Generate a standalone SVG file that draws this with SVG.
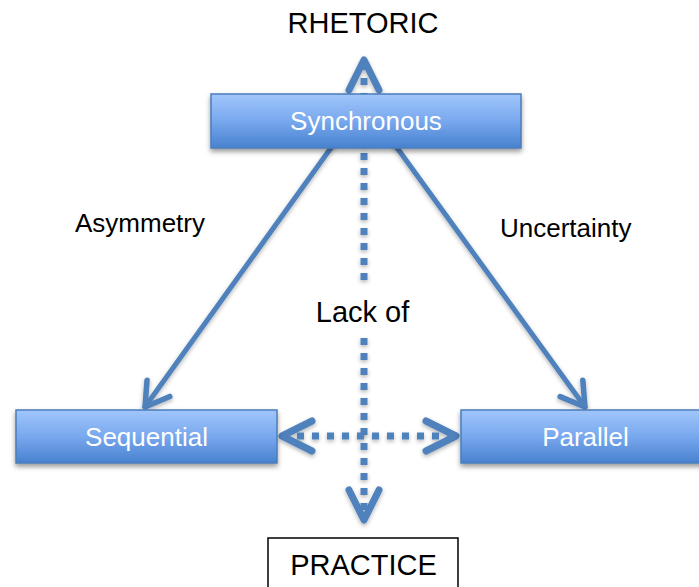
<svg xmlns="http://www.w3.org/2000/svg" width="699" height="587" viewBox="0 0 699 587">
<style>
text{font-family:"Liberation Sans",Arial,sans-serif}
.box{fill:url(#g);stroke:#4a7ebb;stroke-width:1.5;filter:url(#sh)}
.wt{fill:#fff;font-size:26px;text-anchor:middle}
.bt{fill:#000;text-anchor:middle}
.solid{fill:none;stroke:#4f81bd;stroke-width:5;stroke-linecap:round;filter:url(#ls)}
.dot{fill:none;stroke:#4f81bd;stroke-width:7;stroke-dasharray:7 8;filter:url(#ls)}
</style>
<defs>
<linearGradient id="g" x1="0" y1="0" x2="0" y2="1">
<stop offset="0" stop-color="#a1c6fb"/>
<stop offset="0.5" stop-color="#78a8ee"/>
<stop offset="1" stop-color="#4881cf"/>
</linearGradient>
<filter id="sh" x="-10%" y="-20%" width="120%" height="160%">
<feDropShadow dx="0" dy="3" stdDeviation="2.5" flood-color="#000" flood-opacity="0.4"/>
</filter>
<filter id="ls" filterUnits="userSpaceOnUse" x="0" y="0" width="699" height="587">
<feDropShadow dx="0" dy="2" stdDeviation="2" flood-color="#000" flood-opacity="0.3"/>
</filter>
<marker id="sa" markerUnits="userSpaceOnUse" viewBox="-30 -20 34 40" refX="0" refY="0" markerWidth="34" markerHeight="40" orient="auto" overflow="visible">
<path d="M-23,-14 L0,0 L-23,14" fill="none" stroke="#4f81bd" stroke-width="5.5" stroke-linecap="round" stroke-linejoin="round"/>
</marker>
<marker id="da" markerUnits="userSpaceOnUse" viewBox="-40 -22 44 44" refX="0" refY="0" markerWidth="44" markerHeight="44" orient="auto-start-reverse" overflow="visible">
<path d="M-30,-15 L0,0 L-30,15" fill="none" stroke="#4f81bd" stroke-width="7" stroke-linecap="round" stroke-linejoin="round"/>
</marker>
</defs>

<g id="connectors">
<path class="dot" d="M364,280 L364,60" marker-end="url(#da)"/>
<path class="dot" d="M364,338 L364,520" marker-end="url(#da)"/>
<path class="dot" d="M282,436 L456,436" marker-start="url(#da)" marker-end="url(#da)"/>
<path class="solid" d="M333,145 L145,407" marker-end="url(#sa)"/>
<path class="solid" d="M395,145 L585,407" marker-end="url(#sa)"/>
</g>

<g id="rhetoric">
<text class="bt" x="363" y="33" font-size="29">RHETORIC</text>
</g>

<g id="synchronous">
<rect class="box" x="211" y="94" width="310" height="54"/>
<text class="wt" x="366" y="130">Synchronous</text>
</g>

<g id="sequential">
<rect class="box" x="16" y="410" width="261" height="53"/>
<text class="wt" x="146.5" y="446">Sequential</text>
</g>

<g id="parallel">
<rect class="box" x="461" y="410" width="248" height="53"/>
<text class="wt" x="585.5" y="446">Parallel</text>
</g>

<g id="practice">
<rect x="268" y="538" width="190" height="60" fill="#fff" stroke="#000" stroke-width="1.5"/>
<text class="bt" x="363.5" y="575" font-size="29">PRACTICE</text>
</g>

<g id="labels">
<text x="75" y="232" font-size="26" fill="#000">Asymmetry</text>
<text x="500" y="237" font-size="26" fill="#000">Uncertainty</text>
<text class="bt" x="362.5" y="322" font-size="29">Lack of</text>
</g>
</svg>
